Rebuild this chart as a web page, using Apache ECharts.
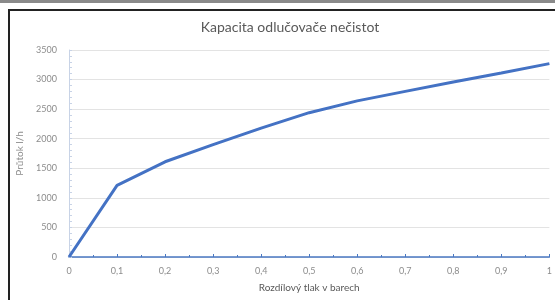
<!DOCTYPE html>
<html>
<head>
<meta charset="utf-8">
<script src="https://cdn.jsdelivr.net/npm/echarts@6/dist/echarts.min.js"></script>
<style>
  html, body { margin: 0; padding: 0; background: #fff; }
  .wrap { position: relative; width: 555px; height: 300px; overflow: hidden; }
  .topline { position: absolute; left: 0; top: 0; width: 555px; height: 3px; background: #8a8a8a; }
  .frame { position: absolute; left: 8px; top: 9px; width: 600px; height: 400px; border-left: 2px solid #222; border-top: 2px solid #222; box-sizing: border-box; }
  #main { position: absolute; left: 0; top: 0; width: 555px; height: 300px; }
</style>
</head>
<body>
<div class="wrap">
  <div class="topline"></div>
  <div class="frame"></div>
  <div id="main"></div>
</div>
<script>
// tlak v barech a průtok l/h
var tlak = [0, 0.1, 0.2, 0.3, 0.4, 0.5, 0.6, 0.7, 0.8, 0.9, 1];
var prutok = [0, 1210, 1610, 1900, 2180, 2440, 2640, 2800, 2960, 3110, 3270];

var data = [];
for (var i = 0; i < tlak.length; i++) {
  data.push([tlak[i], prutok[i]]);
}

var myChart = echarts.init(document.getElementById("main"));
var option = {
  animation: false,
  textStyle: { fontFamily: "Lato" },
  title: {
    text: "Kapacita odlučovače nečistot",
    left: 285,
    textAlign: "center",
    top: 15,
    textStyle: { fontSize: 14, fontWeight: "normal", color: "#595959", fontFamily: "Lato" },
  },
  grid: { left: 69, right: 2, top: 50, bottom: 43 },
  xAxis: {
    type: "value",
    min: 0,
    max: 1,
    interval: 0.1,
    name: "Rozdílový tlak v barech",
    nameLocation: "middle",
    nameGap: 26,
    nameTextStyle: { fontSize: 10, color: "#595959" },
    axisLine: { lineStyle: { color: "#4a78c2", width: 1.5 } },
    axisTick: { show: true, inside: true, length: 3, lineStyle: { color: "#4a78c2" } },
    minorTick: { show: true, splitNumber: 2, length: 2, lineStyle: { color: "#4a78c2" } },
    splitLine: { show: false },
    axisLabel: {
      fontSize: 9,
      color: "#8c8c8c",
      margin: 10,
      formatter: function (v) { return String(Math.round(v * 10) / 10).replace(".", ","); },
    },
  },
  yAxis: {
    type: "value",
    min: 0,
    max: 3500,
    interval: 500,
    name: "Průtok l/h",
    nameLocation: "middle",
    nameGap: 42,
    nameTextStyle: { fontSize: 10, color: "#8c8c8c" },
    axisLine: { show: true, lineStyle: { color: "#c8d3e6", width: 1 } },
    axisTick: { show: true, inside: true, length: 3, lineStyle: { color: "#c8d3e6" } },
    minorTick: { show: true, splitNumber: 5, length: 3, lineStyle: { color: "#c8d3e6" } },
    splitLine: { show: true, lineStyle: { color: "#e3e3e3", width: 1 } },
    axisLabel: {
      fontSize: 9,
      color: "#8c8c8c",
      margin: 12,
      formatter: function (v) { return String(v); },
    },
  },
  series: [
    {
      type: "line",
      data: data,
      symbol: "none",
      lineStyle: { color: "#4472c4", width: 3 },
    },
  ],
};
myChart.setOption(option);
</script>
</body>
</html>
